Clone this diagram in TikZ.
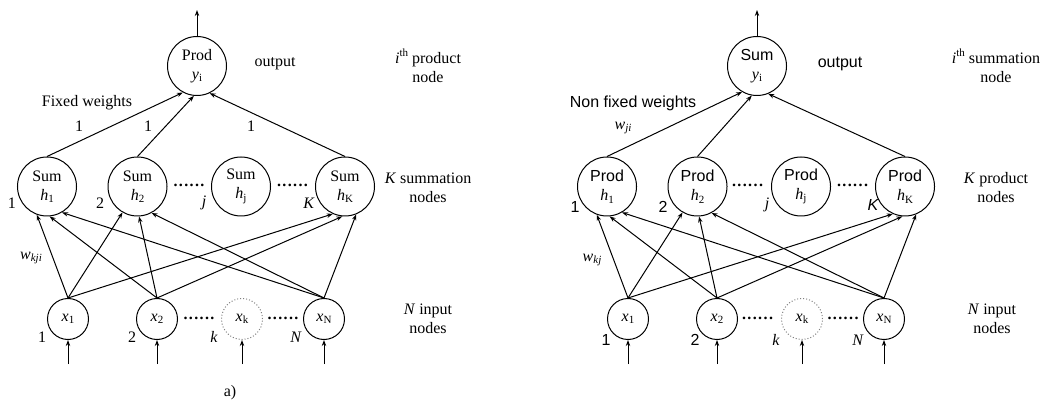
\documentclass[tikz,border=0pt]{standalone}
\usepackage{fontspec}
\setmainfont{Liberation Serif}
\setsansfont{Liberation Sans}
\usetikzlibrary{arrows.meta}
% small raised / lowered text for indices
\newcommand\subtxt[1]{\raisebox{-0.35ex}{\fontsize{5.5}{6}\selectfont #1}}
\newcommand\suptxt[1]{\raisebox{0.9ex}{\fontsize{5.5}{6}\selectfont #1}}
\newcommand\sixdots{\textbf{.\kern0.7pt.\kern0.7pt.\kern0.7pt.\kern0.7pt.\kern0.7pt.}}
\begin{document}
\begin{tikzpicture}[x=0.5pt, y=-0.5pt,
  font=\fontsize{8}{9.5}\selectfont, line width=0.5pt,
  >={Stealth[length=3pt,width=2.2pt]},
  big/.style={circle, draw, minimum size=29.5pt, inner sep=0pt, align=center},
  small/.style={circle, draw, minimum size=20.5pt, inner sep=0pt},
  ghost/.style={small, draw=gray, densely dotted},
  lbl/.style={inner sep=0pt},
  desc/.style={align=center, inner sep=0pt},
  dotrow/.style={anchor=base, inner sep=0pt},
  wire/.style={->}]
\useasboundingbox (0,0) rectangle (1042,400);

% ===== left network: product output over summation nodes =====
\node[big] (oL) at (197,66) {Prod\\\textit{y}\subtxt{i}};
\node[big] (h1L) at (47,186.5) {Sum\\\textit{h}\subtxt{1}};
\node[big] (h2L) at (137.5,186.5) {Sum\\\textit{h}\subtxt{2}};
\node[big] (hjL) at (241,186.5) {Sum\\\textit{h}\subtxt{j}};
\node[big] (hKL) at (345,186.5) {Sum\\\textit{h}\subtxt{K}};
\node[small] (x1L) at (68,319) {\textit{x}\subtxt{1}};
\node[small] (x2L) at (157,319) {\textit{x}\subtxt{2}};
\node[ghost] (xkL) at (242,319) {\textit{x}\subtxt{k}};
\node[small] (xNL) at (324,319) {\textit{x}\subtxt{N}};

\coordinate (topL) at (197,10);
\coordinate (in1L) at (68,364);
\coordinate (in2L) at (157,364);
\coordinate (inkL) at (242,364);
\coordinate (inNL) at (324,364);

\draw[wire] (oL.north) -- (topL);
\draw[wire] (in1L) -- (x1L.south);
\draw[wire] (in2L) -- (x2L.south);
\draw[wire] (inkL) -- (xkL.south);
\draw[wire] (inNL) -- (xNL.south);

\draw[wire] (h1L.north) -- (oL.-118);
\draw[wire] (h2L.north) -- (oL.-96);
\draw[wire] (hKL.north) -- (oL.-65);

\draw[wire] (x1L.north) -- (h1L.-110);
\draw[wire] (x1L.north) -- (h2L.-120);
\draw[wire] (x1L.north) -- (hKL.-114);
\draw[wire] (x2L.north) -- (h1L.-85);
\draw[wire] (x2L.north) -- (h2L.-87);
\draw[wire] (x2L.north) -- (hKL.-95);
\draw[wire] (xNL.north) -- (h1L.-60);
\draw[wire] (xNL.north) -- (h2L.-62);
\draw[wire] (xNL.north) -- (hKL.-68);

\node[dotrow] (hd1L) at (189,187) {\sixdots};
\node[dotrow] (hd2L) at (292.5,187) {\sixdots};
\node[dotrow] (xd1L) at (199,319.5) {\sixdots};
\node[dotrow] (xd2L) at (283,319.5) {\sixdots};

\node[lbl] (outL) at (275,64) {output};
\node[desc] (dOL) at (428,66) {\textit{i}\suptxt{th} product\\node};
\node[desc] (dHL) at (428,188) {\textit{K} summation\\nodes};
\node[desc] (dIL) at (428,319) {\textit{N} input\\nodes};
\node[lbl] (fwL) at (87,103) {Fixed weights};
\node[lbl] (o1L) at (79,126) {1};
\node[lbl] (o2L) at (148,126) {1};
\node[lbl] (o3L) at (251,126) {1};
\node[lbl] (n1L) at (12,203) {1};
\node[lbl] (n2L) at (100,203) {2};
\node[lbl] (njL) at (204,203) {\textit{j}};
\node[lbl] (nKL) at (309,203) {\textit{K}};
\node[lbl] (m1L) at (42,337) {1};
\node[lbl] (m2L) at (132,337) {2};
\node[lbl] (mkL) at (214,337) {\textit{k}};
\node[lbl] (mNL) at (296,337) {\textit{N}};
\node[lbl] (wL) at (31,258) {\textit{w}\subtxt{\textit{kji}}};
\node[lbl] (capL) at (230,393) {a)};

% ===== right network: summation output over product nodes =====
\node[big] (oR) at (757,66) {\sffamily Sum\\\textit{y}\subtxt{i}};
\node[big] (h1R) at (607,186.5) {\sffamily Prod\\\textit{h}\subtxt{1}};
\node[big] (h2R) at (697.5,186.5) {\sffamily Prod\\\textit{h}\subtxt{2}};
\node[big] (hjR) at (801,186.5) {\sffamily Prod\\\textit{h}\subtxt{j}};
\node[big] (hKR) at (905,186.5) {\sffamily Prod\\\textit{h}\subtxt{K}};
\node[small] (x1R) at (628,319) {\textit{x}\subtxt{1}};
\node[small] (x2R) at (717,319) {\textit{x}\subtxt{2}};
\node[ghost] (xkR) at (802,319) {\textit{x}\subtxt{k}};
\node[small] (xNR) at (884,319) {\textit{x}\subtxt{N}};

\coordinate (topR) at (757,10);
\coordinate (in1R) at (628,364);
\coordinate (in2R) at (717,364);
\coordinate (inkR) at (802,364);
\coordinate (inNR) at (884,364);

\draw[wire] (oR.north) -- (topR);
\draw[wire] (in1R) -- (x1R.south);
\draw[wire] (in2R) -- (x2R.south);
\draw[wire] (inkR) -- (xkR.south);
\draw[wire] (inNR) -- (xNR.south);

\draw[wire] (h1R.north) -- (oR.-120);
\draw[wire] (h2R.north) -- (oR.-100);
\draw[wire] (hKR.north) -- (oR.-68);

\draw[wire] (x1R.north) -- (h1R.-110);
\draw[wire] (x1R.north) -- (h2R.-120);
\draw[wire] (x1R.north) -- (hKR.-114);
\draw[wire] (x2R.north) -- (h1R.-85);
\draw[wire] (x2R.north) -- (h2R.-87);
\draw[wire] (x2R.north) -- (hKR.-95);
\draw[wire] (xNR.north) -- (h1R.-60);
\draw[wire] (xNR.north) -- (h2R.-62);
\draw[wire] (xNR.north) -- (hKR.-68);

\node[dotrow] (hd1R) at (747.5,187) {\sixdots};
\node[dotrow] (hd2R) at (852.5,187) {\sixdots};
\node[dotrow] (xd1R) at (757.5,319.5) {\sixdots};
\node[dotrow] (xd2R) at (843,319.5) {\sixdots};

\node[lbl] (outR) at (840,64) {\sffamily output};
\node[desc] (dOR) at (996,66) {\textit{i}\suptxt{th} summation\\node};
\node[desc] (dHR) at (996,188) {\textit{K} product\\nodes};
\node[desc] (dIR) at (992,319) {\textit{N} input\\nodes};
\node[lbl] (fwR) at (633,103) {\sffamily Non fixed weights};
\node[lbl] (wjR) at (623,128) {\textit{w}\subtxt{\textit{ji}}};
\node[lbl] (n1R) at (575,207) {\sffamily 1};
\node[lbl] (n2R) at (663,207) {\sffamily 2};
\node[lbl] (njR) at (767,205) {\textit{j}};
\node[lbl] (nKR) at (873,205) {\sffamily\itshape K};
\node[lbl] (m1R) at (606,340) {\sffamily 1};
\node[lbl] (m2R) at (695,340) {\sffamily 2};
\node[lbl] (mkR) at (776,340) {\textit{k}};
\node[lbl] (mNR) at (858,340) {\textit{N}};
\node[lbl] (wR) at (592,260) {\textit{w}\subtxt{\textit{kj}}};
\end{tikzpicture}
\end{document}
